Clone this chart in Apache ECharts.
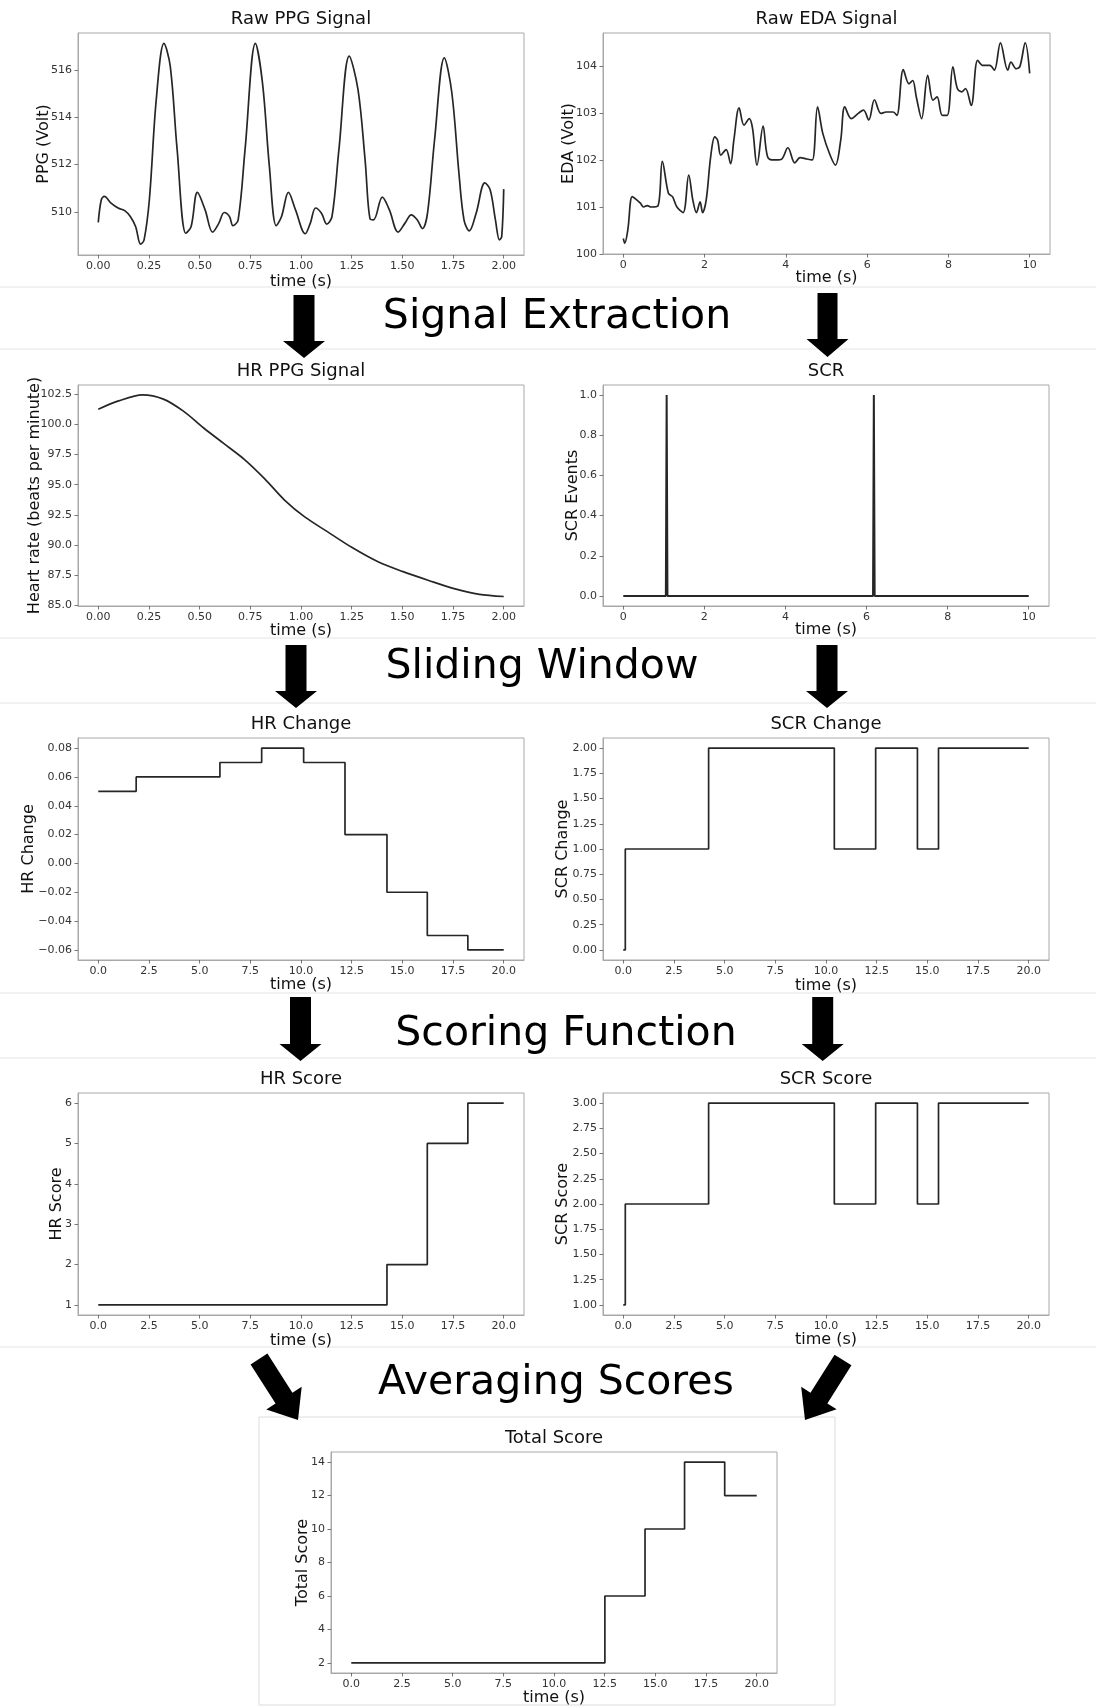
<!DOCTYPE html>
<html>
<head>
<meta charset="utf-8">
<script src="https://cdn.jsdelivr.net/npm/echarts@6/dist/echarts.min.js"></script>
<style>
html,body{margin:0;padding:0;background:#fff;}
#chart{width:1096px;height:1708px;}
</style>
</head>
<body>
<div id="chart"></div>
<script>
// ---------------- DATA ----------------
const ppgTime = [0,0.015,0.03,0.063,0.098,0.132,0.158,0.184,0.209,0.226,0.252,0.286,0.324,0.355,0.389,0.432,0.458,0.489,0.527,0.564,0.595,0.621,0.647,0.664,0.69,0.724,0.775,0.81,0.844,0.878,0.904,0.938,0.973,1.021,1.046,1.072,1.101,1.127,1.153,1.187,1.238,1.281,1.316,1.341,1.358,1.401,1.436,1.479,1.513,1.544,1.573,1.599,1.624,1.659,1.707,1.744,1.779,1.804,1.83,1.864,1.907,1.933,1.959,1.979,1.99,2.0];
const ppgValue = [509.55,510.51,510.65,510.37,510.16,510.04,509.8,509.38,508.63,508.81,510.51,514.75,517.13,516.17,512.63,509.09,509.38,510.82,510.08,509.14,509.52,509.97,509.8,509.41,509.66,512.63,517.13,515.46,511.92,509.41,509.8,510.82,510.08,509.07,509.52,510.16,509.94,509.48,509.8,512.63,516.59,515.18,512.21,509.69,509.66,510.62,510.08,509.14,509.52,509.87,509.66,509.29,509.94,513.06,516.52,515.04,511.64,509.66,509.19,509.94,511.22,510.93,509.66,508.81,508.95,510.96];

const edaTime = [0,0.035,0.11,0.22,0.33,0.42,0.5,0.59,0.68,0.85,0.96,1.11,1.21,1.32,1.47,1.61,1.71,1.8,1.89,1.95,2.04,2.15,2.25,2.32,2.4,2.53,2.64,2.72,2.85,2.97,3.1,3.18,3.29,3.44,3.55,3.7,3.88,4.05,4.22,4.35,4.52,4.65,4.78,4.91,5.09,5.22,5.35,5.45,5.61,5.78,5.91,6.04,6.18,6.34,6.47,6.64,6.73,6.89,7.03,7.12,7.21,7.34,7.49,7.62,7.72,7.85,7.97,8.11,8.22,8.33,8.42,8.56,8.72,8.85,9.02,9.13,9.28,9.46,9.54,9.67,9.76,9.89,10.0];
const edaValue = [100.33,100.23,100.51,101.22,101.15,101.08,101.0,101.03,101.0,101.02,101.97,101.29,101.22,101.0,100.88,101.68,101.15,100.88,101.11,100.88,101.15,102.07,102.49,102.42,102.1,102.22,101.92,102.42,103.11,102.74,102.88,102.67,101.89,102.72,102.07,102.0,102.01,102.26,101.94,102.05,102.02,102.0,103.13,102.56,102.1,101.89,102.42,103.13,102.88,102.99,103.06,102.85,103.28,102.99,103.02,103.02,102.95,103.92,103.62,103.69,103.34,102.88,103.8,103.27,103.34,102.95,102.95,103.98,103.52,103.45,103.52,103.16,104.12,104.01,104.01,103.91,104.49,103.91,104.08,103.94,103.99,104.49,103.84];

const hrTime = [0,0.1,0.218,0.321,0.42,0.52,0.62,0.72,0.82,0.92,1.02,1.13,1.25,1.38,1.5,1.63,1.76,1.88,2.0];
const hrValue = [101.26,101.95,102.45,102.1,101.1,99.7,98.4,97.1,95.5,93.7,92.3,91.1,89.8,88.6,87.8,87.05,86.35,85.9,85.72];

const scrTime = [0,1.05,1.07,1.09,6.16,6.18,6.2,10];
const scrValue = [0,0,1,0,0,1,0,0];

const hrChangeTime = [0,1.87,6.0,8.06,10.13,12.17,14.24,16.23,18.23,20];
const hrChangeValue = [0.05,0.06,0.07,0.08,0.07,0.02,-0.02,-0.05,-0.06,-0.06];

const scrChangeTime = [0,0.1,4.21,10.41,12.45,14.51,15.55,20];
const scrChangeValue = [0,1,2,1,2,1,2,2];

const hrScoreTime = [0,14.24,16.23,18.23,20];
const hrScoreValue = [1,2,5,6,6];

const scrScoreTime = [0,0.1,4.21,10.41,12.45,14.51,15.55,20];
const scrScoreValue = [1,2,3,2,3,2,3,3];

const totalTime = [0,12.51,14.49,16.44,18.42,20];
const totalValue = [2,6,10,14,12,12];

// tick labels
const ppgXTicks = [0,0.25,0.5,0.75,1.0,1.25,1.5,1.75,2.0];
const ppgYTicks = [510,512,514,516];
const edaXTicks = [0,2,4,6,8,10];
const edaYTicks = [100,101,102,103,104];
const hrYTicks = [85,87.5,90,92.5,95,97.5,100,102.5];
const scrYTicks = [0,0.2,0.4,0.6,0.8,1.0];
const winXTicks = [0,2.5,5,7.5,10,12.5,15,17.5,20];
const hrChangeYTicks = [-0.06,-0.04,-0.02,0,0.02,0.04,0.06,0.08];
const scrChangeYTicks = [0,0.25,0.5,0.75,1.0,1.25,1.5,1.75,2.0];
const hrScoreYTicks = [1,2,3,4,5,6];
const scrScoreYTicks = [1,1.25,1.5,1.75,2.0,2.25,2.5,2.75,3.0];
const totalYTicks = [2,4,6,8,10,12,14];

// ---------------- CHART ----------------
const FONT = '"DejaVu Sans", sans-serif';
const LINE = '#262626';

const panels = [
  {grid:[78,33,446,222], x:[-0.1,2.1], y:[508.17,517.57], xt:ppgXTicks, yt:ppgYTicks, xd:2, yd:0, t:ppgTime, v:ppgValue, step:false, smooth:0.35,
   title:'Raw PPG Signal', ylab:'PPG (Volt)', ylx:44, xly:282},
  {grid:[603,33,447,221], x:[-0.5,10.5], y:[100.0,104.7], xt:edaXTicks, yt:edaYTicks, xd:0, yd:0, t:edaTime, v:edaValue, step:false, smooth:0.35,
   title:'Raw EDA Signal', ylab:'EDA (Volt)', ylx:569, xly:278},
  {grid:[78,385,446,221], x:[-0.1,2.1], y:[84.93,103.27], xt:ppgXTicks, yt:hrYTicks, xd:2, yd:1, t:hrTime, v:hrValue, step:false, smooth:0.3,
   title:'HR PPG Signal', ylab:'Heart rate (beats per minute)', ylx:35, xly:631},
  {grid:[603,385,446,221], x:[-0.5,10.5], y:[-0.05,1.05], xt:edaXTicks, yt:scrYTicks, xd:0, yd:1, t:scrTime, v:scrValue, step:false, smooth:false,
   title:'SCR', ylab:'SCR Events', ylx:573, xly:630},
  {grid:[78,738,446,222], x:[-1,21], y:[-0.067,0.087], xt:winXTicks, yt:hrChangeYTicks, xd:1, yd:2, t:hrChangeTime, v:hrChangeValue, step:'end', smooth:false,
   title:'HR Change', ylab:'HR Change', ylx:29, xly:985},
  {grid:[603,738,446,222], x:[-1,21], y:[-0.1,2.1], xt:winXTicks, yt:scrChangeYTicks, xd:1, yd:2, t:scrChangeTime, v:scrChangeValue, step:'end', smooth:false,
   title:'SCR Change', ylab:'SCR Change', ylx:563, xly:986},
  {grid:[78,1093,446,222], x:[-1,21], y:[0.75,6.25], xt:winXTicks, yt:hrScoreYTicks, xd:1, yd:0, t:hrScoreTime, v:hrScoreValue, step:'end', smooth:false,
   title:'HR Score', ylab:'HR Score', ylx:57, xly:1341},
  {grid:[603,1093,446,222], x:[-1,21], y:[0.9,3.1], xt:winXTicks, yt:scrScoreYTicks, xd:1, yd:2, t:scrScoreTime, v:scrScoreValue, step:'end', smooth:false,
   title:'SCR Score', ylab:'SCR Score', ylx:563, xly:1340},
  {grid:[331,1452,446,221], x:[-1,21], y:[1.4,14.6], xt:winXTicks, yt:totalYTicks, xd:1, yd:0, t:totalTime, v:totalValue, step:'end', smooth:false,
   title:'Total Score', ylab:'Total Score', ylx:303, xly:1698}
];

function fmt(d){
  return function(val){
    let s = Number(val).toFixed(d);
    if (Number(s) < 0) s = '\u2212' + s.slice(1);
    return s;
  };
}

const grids = [], xAxes = [], yAxes = [], series = [], graphics = [];

// background frame for the total score panel
graphics.push({type:'rect', shape:{x:259,y:1417,width:576,height:288}, style:{fill:'#fff', stroke:'#dcdcdc', lineWidth:1}, z:-10});

// separator lines
[287,349,638,703,993,1058,1347].forEach(function(yy){
  graphics.push({type:'line', shape:{x1:0,y1:yy,x2:1096,y2:yy}, style:{stroke:'#e4e4e4', lineWidth:1}, z:-5});
});

panels.forEach(function(p, i){
  grids.push({left:p.grid[0], top:p.grid[1], width:p.grid[2], height:p.grid[3], show:true, borderColor:'#a8a8a8', borderWidth:1, backgroundColor:'#fff', containLabel:false});
  const axisCommon = {
    axisLine:{show:true, onZero:false, lineStyle:{color:'#a8a8a8', width:1}},
    axisTick:{show:true, length:3.5, lineStyle:{color:'#555', width:0.8}},
    splitLine:{show:false}
  };
  xAxes.push(Object.assign({}, axisCommon, {
    type:'value', gridIndex:i, min:p.x[0], max:p.x[1],
    axisTick:Object.assign({}, axisCommon.axisTick, {customValues:p.xt}),
    axisLabel:{customValues:p.xt, formatter:fmt(p.xd), fontFamily:FONT, fontSize:11, color:'#333', margin:6}
  }));
  yAxes.push(Object.assign({}, axisCommon, {
    type:'value', gridIndex:i, min:p.y[0], max:p.y[1],
    axisTick:Object.assign({}, axisCommon.axisTick, {customValues:p.yt}),
    axisLabel:{customValues:p.yt, formatter:fmt(p.yd), fontFamily:FONT, fontSize:11, color:'#333', margin:6}
  }));
  series.push({
    type:'line', xAxisIndex:i, yAxisIndex:i,
    data:p.t.map(function(tt, k){ return [tt, p.v[k]]; }),
    step:p.step, smooth:p.smooth, showSymbol:false, symbol:'none',
    lineStyle:{color:LINE, width:(i===3?2:1.7)}, silent:true
  });
  const cx = p.grid[0] + p.grid[2]/2;
  const cy = p.grid[1] + p.grid[3]/2;
  graphics.push({type:'text', x:cx, y:p.grid[1]-14, style:{text:p.title, font:'18px ' + FONT, fill:'#111', align:'center', verticalAlign:'middle'}});
  graphics.push({type:'text', x:cx, y:p.xly, style:{text:'time (s)', font:'16px ' + FONT, fill:'#111', align:'center', verticalAlign:'middle'}});
  graphics.push({type:'text', x:p.ylx, y:cy, rotation:Math.PI/2, style:{text:p.ylab, font:'16px ' + FONT, fill:'#111', align:'center', verticalAlign:'middle'}});
});

// section headings
const sections = [
  {text:'Signal Extraction', x:557, y:317},
  {text:'Sliding Window', x:542, y:667},
  {text:'Scoring Function', x:566, y:1034},
  {text:'Averaging Scores', x:556, y:1383}
];
sections.forEach(function(s){
  graphics.push({type:'text', x:s.x, y:s.y, style:{text:s.text, font:'41px ' + FONT, fill:'#000', align:'center', verticalAlign:'middle'}});
});

// arrows
function arrow(x0, y0, x1, y1, sw, hw, hl){
  const dx = x1 - x0, dy = y1 - y0;
  const len = Math.sqrt(dx*dx + dy*dy);
  const ux = dx/len, uy = dy/len;
  const nx = -uy, ny = ux;
  const bx = x1 - ux*hl, by = y1 - uy*hl;
  const pts = [
    [x0 + nx*sw, y0 + ny*sw],
    [bx + nx*sw, by + ny*sw],
    [bx + nx*hw, by + ny*hw],
    [x1, y1],
    [bx - nx*hw, by - ny*hw],
    [bx - nx*sw, by - ny*sw],
    [x0 - nx*sw, y0 - ny*sw]
  ];
  return {type:'polygon', shape:{points:pts}, style:{fill:'#000'}, z:10};
}
graphics.push(arrow(304, 295, 304, 358, 10.5, 21, 17));
graphics.push(arrow(827.5, 293, 827.5, 357, 10, 21, 18));
graphics.push(arrow(296, 645, 296, 708, 10.5, 21, 17));
graphics.push(arrow(827, 645, 827, 708, 10.5, 21, 17));
graphics.push(arrow(300.5, 997, 300.5, 1061, 10.5, 21, 17));
graphics.push(arrow(822.7, 997, 822.7, 1061, 10.5, 21, 17));
graphics.push(arrow(259, 1359, 298, 1420, 10, 21, 26));
graphics.push(arrow(843, 1360, 805, 1420, 10, 21, 26));

const chart = echarts.init(document.getElementById('chart'), null, {renderer:'canvas', width:1096, height:1708});
chart.setOption({
  animation:false,
  backgroundColor:'#fff',
  grid:grids,
  xAxis:xAxes,
  yAxis:yAxes,
  series:series,
  graphic:{elements:graphics}
});
</script>
</body>
</html>
